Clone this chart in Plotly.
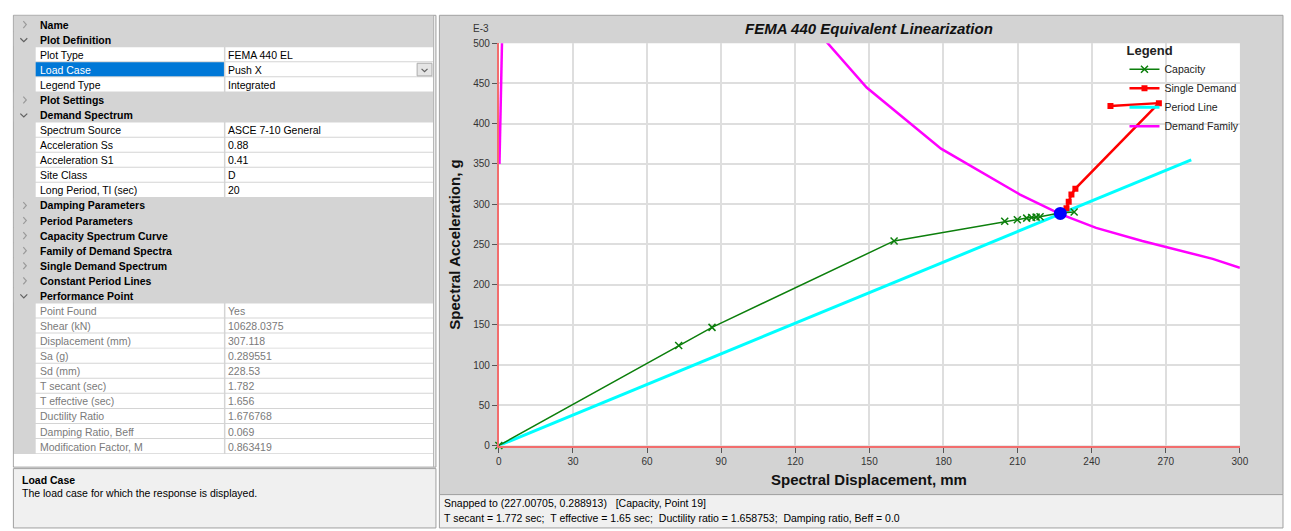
import plotly.graph_objects as go

W, H = 1291, 531
FONT = "Liberation Sans, Arial, sans-serif"

# ---------------- chart data (Sd in mm, Sa in g x 1E-3) ----------------
cap_sd = [0, 72.8, 86.3, 160.0, 204.8, 209.9, 213.7, 215.7, 217.5, 219.1, 227.0, 232.9]
cap_sa = [0, 124.3, 146.9, 254.3, 278.7, 280.7, 282.7, 283.5, 283.9, 284.3, 288.9, 290.3]

dem_sd = [228.4, 229.8, 230.7, 231.8, 233.4, 267.2, 247.6]
dem_sa = [288.0, 295.0, 303.0, 312.0, 319.3, 425.6, 421.9]

per_sd = [0, 280.3]
per_sa = [0, 355.0]

fam_sd = [0.25, 1.3, None, 132.0, 148.9, 179.0, 200.4, 211.0, 227.1, 241.8, 260.5, 289.0, 300.0]
fam_sa = [350.0, 505.0, None, 504.0, 445.0, 369.0, 331.0, 312.0, 288.0, 270.5, 254.3, 232.0, 221.0]

pp_sd = [227.3]
pp_sa = [288.5]

x_ticks = [0, 30, 60, 90, 120, 150, 180, 210, 240, 270, 300]
y_ticks = [0, 50, 100, 150, 200, 250, 300, 350, 400, 450, 500]

# ---------------- property grid content ----------------
row_kinds = ["h", "H", "i", "i", "i", "h", "H", "i", "i", "i", "i", "i",
             "h", "h", "h", "h", "h", "h", "H",
             "g", "g", "g", "g", "g", "g", "g", "g", "g", "g"]
row_labels = ["Name", "Plot Definition", "Plot Type", "Load Case", "Legend Type",
              "Plot Settings", "Demand Spectrum", "Spectrum Source", "Acceleration Ss",
              "Acceleration S1", "Site Class", "Long Period, Tl (sec)",
              "Damping Parameters", "Period Parameters", "Capacity Spectrum Curve",
              "Family of Demand Spectra", "Single Demand Spectrum", "Constant Period Lines",
              "Performance Point", "Point Found", "Shear (kN)", "Displacement (mm)",
              "Sa (g)", "Sd (mm)", "T secant (sec)", "T effective (sec)",
              "Ductility Ratio", "Damping Ratio, Beff", "Modification Factor, M"]
row_values = ["", "", "FEMA 440 EL", "Push X", "Integrated", "", "", "ASCE 7-10 General",
              "0.88", "0.41", "D", "20", "", "", "", "", "", "", "",
              "Yes", "10628.0375", "307.118", "0.289551", "228.53", "1.782", "1.656",
              "1.676768", "0.069", "0.863419"]

status_1 = "Snapped to (227.00705, 0.288913)\u00a0\u00a0\u00a0[Capacity, Point 19]"
status_2 = ("T secant = 1.772 sec;\u00a0\u00a0T effective = 1.65 sec;\u00a0\u00a0Ductility ratio = 1.658753;"
            "\u00a0\u00a0Damping ratio, Beff = 0.0")

# ---------------- helpers (pixel -> paper) ----------------
def X(px):
    return px / W

def Y(py):
    return 1 - py / H

shapes = []
annots = []

def rect(x0, y0, x1, y1, fill, line=None, lw=1, layer="below"):
    shapes.append(dict(type="rect", xref="paper", yref="paper", layer=layer,
                       x0=X(x0), x1=X(x1), y0=Y(y1), y1=Y(y0), fillcolor=fill,
                       line=dict(width=lw if line else 0, color=line or "rgba(0,0,0,0)")))

def seg(pts, color, lw=1, layer="below"):
    d = "M " + " L ".join(f"{X(a):.6f},{Y(b):.6f}" for a, b in pts)
    shapes.append(dict(type="path", xref="paper", yref="paper", layer=layer, path=d,
                       line=dict(color=color, width=lw)))

def txt(x, y, s, size=10.5, color="#000000", anchor="left", angle=0):
    annots.append(dict(x=X(x), y=Y(y), xref="paper", yref="paper", text=s, showarrow=False,
                       xanchor=anchor, yanchor="middle", textangle=angle,
                       font=dict(family=FONT, size=size, color=color)))

# ---------------- left property panel ----------------
RH = 15.36
TOP = 12.3
rect(10.5, 10.5, 437, 471, "#ececec", "#a0a0a0")
seg([(434.5, 11), (434.5, 471)], "#b4b4b4")
rect(11, 11, 434, TOP + len(row_labels) * RH, "#d4d4d4")
for i, (k, lab, val) in enumerate(zip(row_kinds, row_labels, row_values)):
    t = TOP + i * RH
    b = t + RH - 1
    c = t + RH / 2
    if k in ("h", "H"):
        rect(11, t, 434, b, "#d4d4d4")
        txt(35, c, "<b>" + lab + "</b>")
        if k == "h":
            seg([(20.5, c - 3.5), (23.5, c), (20.5, c + 3.5)], "#9a9a9a", 1.2)
        else:
            seg([(17.5, c - 1.5), (21, c + 2), (24.5, c - 1.5)], "#606060", 1.2)
    else:
        sel = (lab == "Load Case")
        rect(33, t, 223, b, "#0078d7" if sel else "#ffffff")
        rect(224.5, t, 434, b, "#ffffff")
        col = "#ffffff" if sel else ("#7a7a7a" if k == "g" else "#000000")
        txt(35, c, lab, color=col)
        txt(225, c, val, color=("#7a7a7a" if k == "g" else "#000000"))
        if sel:
            rect(418, t + 1, 433, b - 0.5, "#e5e5e5", "#acacac")
            seg([(422.5, c - 1), (425.5, c + 2), (428.5, c - 1)], "#606060", 1.2)
rect(11, TOP + len(row_labels) * RH, 434, 470, "#ffffff")
rect(10.5, 472.5, 437, 533, "#f0f0f0", "#a0a0a0")
txt(17, 484, "<b>Load Case</b>")
txt(17, 497.5, "The load case for which the response is displayed.")

# ---------------- chart panel background ----------------
PX0, PX1, PYT, PYB = 500.5, 1248.5, 39.0, 449.0
rect(440.5, 10.5, 1292, 499, "#d3d3d3", "#a0a0a0")
rect(PX0, PYT, PX1, PYB, "#ffffff")
rect(440.5, 499, 1292, 533, "#f0f0f0", "#a0a0a0")
txt(443, 507.5, status_1)
txt(443, 522.5, status_2)

txt(874.5, 24, "<b><i>FEMA 440 Equivalent Linearization</i></b>", size=15, color="#111111", anchor="center")
txt(472, 24, "E-3", size=10, color="#333333")
txt(874.5, 483.5, "<b>Spectral Displacement, mm</b>", size=15, color="#111111", anchor="center")
txt(455.5, 244, "<b>Spectral Acceleration, g</b>", size=15, color="#111111", anchor="center", angle=-90)

# ---------------- traces ----------------
GREEN = "#0c7f0c"
fig = go.Figure()
fig.add_trace(go.Scatter(x=per_sd, y=per_sa, mode="lines", name="Period Line",
                         line=dict(color="#00ffff", width=3), legendrank=3))
fig.add_trace(go.Scatter(x=fam_sd, y=fam_sa, mode="lines", name="Demand Family",
                         line=dict(color="#ff00ff", width=2.5), legendrank=4, connectgaps=False))
fig.add_trace(go.Scatter(x=cap_sd, y=cap_sa, mode="lines+markers", name="Capacity",
                         line=dict(color=GREEN, width=1.5),
                         marker=dict(symbol="x-thin", size=7, line=dict(width=1.5, color=GREEN)),
                         legendrank=1, cliponaxis=False))
fig.add_trace(go.Scatter(x=dem_sd, y=dem_sa, mode="lines+markers", name="Single Demand",
                         line=dict(color="#ff0000", width=2.5),
                         marker=dict(symbol="square", size=6, color="#ff0000"),
                         legendrank=2))
fig.add_trace(go.Scatter(x=pp_sd, y=pp_sa, mode="markers", name="Performance Point",
                         marker=dict(symbol="circle", size=13, color="#0000ff"),
                         showlegend=False))

axis_common = dict(showgrid=True, gridcolor="#dedede", gridwidth=1.5, zeroline=False,
                   showline=True, linecolor="#f26d6d", linewidth=2, mirror=False,
                   ticks="outside", ticklen=5, tickwidth=1, tickcolor="#555555",
                   tickfont=dict(family=FONT, size=10, color="#333333"), fixedrange=True)

fig.update_layout(
    width=W, height=H, autosize=False,
    margin=dict(l=0, r=0, t=0, b=0, pad=0),
    paper_bgcolor="#ffffff", plot_bgcolor="#ffffff",
    xaxis=dict(domain=[X(PX0), X(PX1)], range=[0, 300], tickvals=x_ticks, **axis_common),
    yaxis=dict(domain=[Y(PYB), Y(PYT)], range=[0, 500], tickvals=y_ticks, **axis_common),
    shapes=shapes, annotations=annots,
    showlegend=True,
    legend=dict(x=X(1132), y=Y(33.5), xanchor="left", yanchor="top",
                bgcolor="rgba(0,0,0,0)", borderwidth=0,
                title=dict(text="<b>Legend</b>", font=dict(family=FONT, size=13, color="#222222")),
                font=dict(family=FONT, size=10.5, color="#222222"),
                itemwidth=30, tracegroupgap=0),
    font=dict(family=FONT),
)

fig.write_html("out.html", config={"displayModeBar": False},
               post_script="document.body.style.margin='0';document.body.style.overflow='hidden';")
